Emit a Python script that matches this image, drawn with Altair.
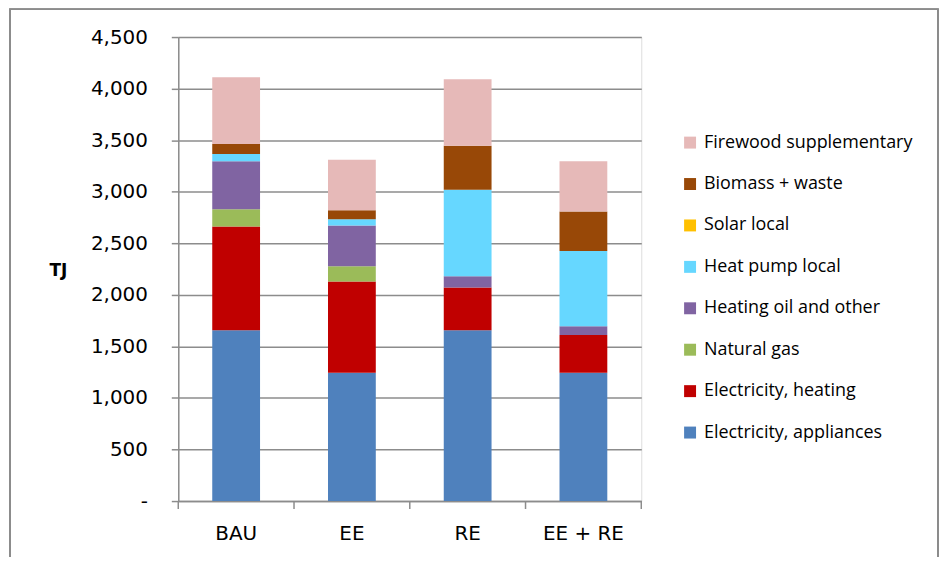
import altair as alt
import pandas as pd

scenarios = ["BAU", "EE", "RE", "EE + RE"]
sources = [
    "Electricity, appliances",
    "Electricity, heating",
    "Natural gas",
    "Heating oil and other",
    "Heat pump local",
    "Solar local",
    "Biomass + waste",
    "Firewood supplementary",
]
colors = ["#4F81BD", "#C00000", "#9BBB59", "#8064A2", "#66D7FF", "#FFC000", "#984807", "#E6B9B8"]

# TJ per scenario, same order as `scenarios`
values = {
    "Electricity, appliances": [1656, 1244, 1656, 1244],
    "Electricity, heating":    [1006, 885, 415, 367],
    "Natural gas":             [168, 148, 0, 0],
    "Heating oil and other":   [466, 395, 109, 84],
    "Heat pump local":         [71, 61, 839, 729],
    "Solar local":             [0, 0, 0, 0],
    "Biomass + waste":         [96, 87, 428, 383],
    "Firewood supplementary":  [646, 489, 643, 489],
}

rows = []
for i, s in enumerate(sources):
    for j, sc in enumerate(scenarios):
        rows.append({"scenario": sc, "source": s, "TJ": values[s][j], "k": i})
df = pd.DataFrame(rows)

grid_col = "#8c8c8c"
PW, PH = 465, 466

xscale = alt.Scale(domain=scenarios, paddingInner=0, paddingOuter=0)
legend_domain = sources[::-1]
legend_range = colors[::-1]

bars = alt.Chart(df).mark_bar(size=48).encode(
    x=alt.X("scenario:N", scale=xscale, sort=scenarios,
            axis=alt.Axis(title=None, labelAngle=0, ticks=False, domain=True,
                          domainColor=grid_col, domainWidth=1.5,
                          labelFont="DejaVu Sans", labelFontSize=20, labelColor="#000",
                          labelPadding=23)),
    y=alt.Y("TJ:Q", stack="zero",
            scale=alt.Scale(domain=[0, 4500], nice=False),
            axis=alt.Axis(values=list(range(0, 4501, 500)), title="TJ", titleAngle=0,
                          titleFont="DejaVu Sans", titleFontWeight="bold", titleFontSize=17,
                          titleColor="#000", titleX=-121, titleY=234, titleAlign="center",
                          titleBaseline="middle",
                          labelExpr="datum.value == 0 ? '-' : format(datum.value, ',')",
                          labelFont="DejaVu Sans", labelFontSize=20, labelColor="#000",
                          labelPadding=24, tickSize=7, tickColor=grid_col, tickWidth=1.5,
                          domainColor=grid_col, domainWidth=1.5,
                          grid=True, gridColor=grid_col, gridWidth=1.5)),
    color=alt.Color("source:N",
                    scale=alt.Scale(domain=legend_domain, range=legend_range),
                    legend=alt.Legend(title=None, orient="none", legendX=505, legendY=97,
                                      symbolType="square", symbolSize=144, symbolStrokeWidth=0,
                                      labelFont="Open Sans", labelFontSize=18, labelColor="#000",
                                      labelOffset=5, labelLimit=400, rowPadding=23.6, padding=0)),
    order=alt.Order("k:Q", sort="ascending"),
)

tick_df = pd.DataFrame({"scenario": scenarios})
xticks = alt.Chart(tick_df).mark_rule(color=grid_col, strokeWidth=1.5).encode(
    x=alt.X("scenario:N", scale=xscale, sort=scenarios, bandPosition=0),
    y=alt.value(PH), y2=alt.value(PH + 8),
)
xticks_end = alt.Chart(pd.DataFrame({"scenario": [scenarios[-1]]})).mark_rule(
    color=grid_col, strokeWidth=1.5).encode(
    x=alt.X("scenario:N", scale=xscale, sort=scenarios, bandPosition=1),
    y=alt.value(PH), y2=alt.value(PH + 8),
)

border = alt.Chart(tick_df).mark_rect(fill=None, stroke="#8c8c8c", strokeWidth=1.5,
                                      clip=False).encode(
    x=alt.value(10 - 179), x2=alt.value(942 - 179),
    y=alt.value(8 - 36), y2=alt.value(620),
)

chart = alt.layer(border, bars, xticks, xticks_end).properties(
    width=PW, height=PH,
    autosize=alt.AutoSizeParams(type="none"),
    padding={"left": 171, "top": 28, "right": 300, "bottom": 55},
).configure_view(stroke=None).configure(background="white")

chart.save("out.html", embed_options={"renderer": "svg", "actions": False})
